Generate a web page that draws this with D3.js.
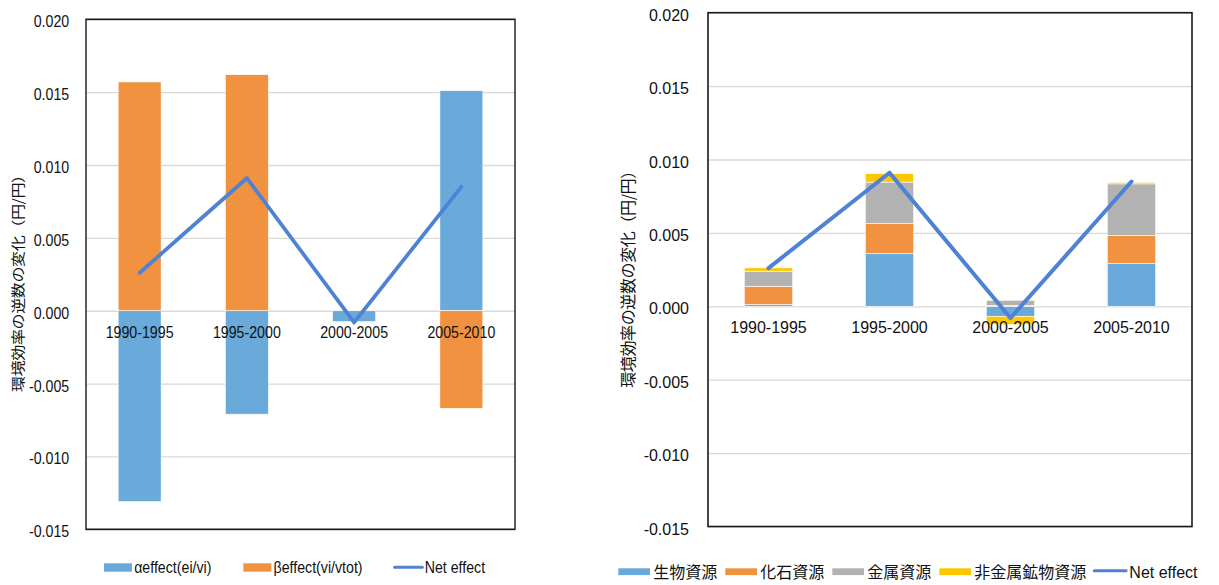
<!DOCTYPE html>
<html>
<head>
<meta charset="utf-8">
<script src="https://cdn.jsdelivr.net/npm/d3@7"></script>
<style>
  html, body { margin: 0; padding: 0; background: #fff; }
  svg { display: block; }
  text { font-family: "Liberation Sans", Arial, "Noto Sans CJK JP", sans-serif; fill: #111; }
  .jp { font-family: "Noto Sans CJK JP", "Liberation Sans", sans-serif; }
</style>
</head>
<body>
<svg id="chart" width="1219" height="585"></svg>
<script>
// ---- data ----
const periods = ["1990-1995", "1995-2000", "2000-2005", "2005-2010"];

// left panel: decomposition into α / β effects
const alphaEffect = [-0.0131, -0.0071, -0.00075, 0.0151];
const betaEffect  = [0.0157, 0.0162, 0.00005, -0.0067];
const netEffectLeft = [0.0026, 0.0091, -0.0008, 0.0085];

// right panel: contribution by resource type
const bioResources      = [0.00012, 0.00359, -0.00068, 0.00291];
const fossilResources   = [0.00125, 0.00204, 0.00005, 0.00191];
const metalResources    = [0.00102, 0.00283, 0.00036, 0.00352];
const nonMetalMinerals  = [0.00023, 0.00057, -0.00057, 0.0001];
const netEffectRight = [0.0026, 0.0091, -0.0008, 0.0085];

const yTicks      = [-0.015, -0.010, -0.005, 0, 0.005, 0.010, 0.015, 0.020];
const yTickLabels = ["-0.015", "-0.010", "-0.005", "0.000", "0.005", "0.010", "0.015", "0.020"];
const yTitle = "環境効率の逆数の変化（円/円）";
const leftSeriesNames  = ["αeffect(ei/vi)", "βeffect(vi/vtot)"];
const rightSeriesNames = ["生物資源", "化石資源", "金属資源", "非金属鉱物資源"];
const netName = "Net effect";

// ---- styling ----
const C_BLUE = "#6aaadb", C_ORANGE = "#f19240", C_GRAY = "#b2b2b2", C_YELLOW = "#ffc700";
const C_LINE = "#4f81d5", C_GRID = "#d9d9d9";

const svg = d3.select("#chart");

function drawPanel(g, cfg) {
  const x = d3.scaleBand().domain(periods).range([cfg.x0, cfg.x1])
    .paddingInner(0.6).paddingOuter(0.3);
  const y = d3.scaleLinear().domain([-0.015, 0.02]).range([cfg.yBottom, cfg.yTop]);
  const bw = x.bandwidth();
  const cx = p => x(p) + bw / 2;

  // horizontal gridlines
  const grid = g.append("g").attr("transform", `translate(${cfg.x0},0)`)
    .call(d3.axisLeft(y).tickValues(yTicks).tickSize(-(cfg.x1 - cfg.x0)).tickFormat(""));
  grid.select(".domain").remove();
  grid.selectAll("line").attr("stroke", C_GRID).attr("stroke-width", 1.3);

  // value labels on the left
  const ax = g.append("g").attr("transform", `translate(${cfg.x0},0)`)
    .call(d3.axisLeft(y).tickValues(yTicks).tickSize(0).tickPadding(19)
      .tickFormat((d, i) => yTickLabels[i]));
  ax.select(".domain").remove();
  ax.selectAll("text").attr("dy", "0.47em").attr("font-size", 16)
    .attr("font-family", "Liberation Sans, Arial, sans-serif").attr("fill", "#111");

  // stacked bars (positive up, negative down)
  const rows = periods.map((p, i) => {
    const r = { period: p };
    cfg.series.forEach((s, j) => { r[j] = s[i]; });
    return r;
  });
  const layers = d3.stack().keys(cfg.series.map((_, j) => j))
    .offset(d3.stackOffsetDiverging)(rows);
  g.append("g").selectAll("g").data(layers).join("g")
    .attr("fill", (d, j) => cfg.colors[j])
    .selectAll("rect").data(d => d).join("rect")
    .attr("x", d => x(d.data.period))
    .attr("width", bw)
    .attr("y", d => y(Math.max(d[0], d[1])))
    .attr("height", d => Math.abs(y(d[0]) - y(d[1])))
    .attr("stroke", "#ffffff").attr("stroke-width", 0.6);

  // category labels
  g.append("g").selectAll("text").data(periods).join("text")
    .attr("x", d => cx(d)).attr("y", cfg.labelBaseline)
    .attr("text-anchor", "middle").attr("font-size", 16)
    .text(d => d);

  // net effect line
  g.append("path").datum(cfg.net)
    .attr("fill", "none").attr("stroke", C_LINE).attr("stroke-width", 4)
    .attr("stroke-linejoin", "round").attr("stroke-linecap", "round")
    .attr("d", d3.line().x((d, i) => cx(periods[i])).y(d => y(d)));

  // plot frame
  g.append("rect")
    .attr("x", cfg.x0).attr("y", cfg.yTop)
    .attr("width", cfg.x1 - cfg.x0).attr("height", cfg.yBottom - cfg.yTop)
    .attr("fill", "none").attr("stroke", "#1a1a1a").attr("stroke-width", 1.6);

  // vertical axis title
  g.append("text").attr("class", "jp")
    .attr("transform", `translate(${cfg.titleX},${cfg.titleCY}) rotate(-90)`)
    .attr("text-anchor", "middle").attr("dominant-baseline", "central")
    .attr("font-size", 16)
    .attr("textLength", 225).attr("lengthAdjust", "spacing")
    .text(yTitle);

  // legend
  const L = cfg.legend;
  const items = cfg.names.map((n, j) => ({ name: n, color: cfg.colors[j], line: false }))
    .concat([{ name: netName, color: C_LINE, line: true }]);
  let cursor = L.x;
  items.forEach(it => {
    if (it.line) {
      g.append("line")
        .attr("x1", cursor).attr("x2", cursor + L.swatchW)
        .attr("y1", L.lineY).attr("y2", L.lineY)
        .attr("stroke", it.color).attr("stroke-width", 3).attr("stroke-linecap", "round");
    } else {
      g.append("rect")
        .attr("x", cursor).attr("y", L.swatchY)
        .attr("width", L.swatchW).attr("height", L.swatchH)
        .attr("fill", it.color);
    }
    const t = g.append("text")
      .attr("x", cursor + L.textOff).attr("y", L.baseline)
      .attr("font-size", 16).text(it.name);
    cursor += L.textOff + t.node().getComputedTextLength() + L.gap;
  });
}

// left panel: drawn on a horizontally condensed frame
const squeeze = 0.887;
const gLeft = svg.append("g").attr("transform", `scale(${squeeze},1)`);
drawPanel(gLeft, {
  x0: 86 / squeeze, x1: 515 / squeeze,
  yTop: 19.3, yBottom: 529.3,
  series: [alphaEffect, betaEffect],
  colors: [C_BLUE, C_ORANGE],
  names: leftSeriesNames,
  net: netEffectLeft,
  labelBaseline: 338,
  titleX: 16 / squeeze, titleCY: 279.4,
  legend: { x: 104 / squeeze, swatchW: 31.5, swatchH: 8.4, swatchY: 563.3,
            lineY: 567.3, textOff: 34, gap: 36, baseline: 573.5 }
});

// right panel
const gRight = svg.append("g");
drawPanel(gRight, {
  x0: 708, x1: 1192,
  yTop: 12.7, yBottom: 526.5,
  series: [bioResources, fossilResources, metalResources, nonMetalMinerals],
  colors: [C_BLUE, C_ORANGE, C_GRAY, C_YELLOW],
  names: rightSeriesNames,
  net: netEffectRight,
  labelBaseline: 333.3,
  titleX: 627, titleCY: 275.3,
  legend: { x: 618.3, swatchW: 31.7, swatchH: 6.8, swatchY: 568.3,
            lineY: 570.8, textOff: 35, gap: 8, baseline: 578 }
});
</script>
</body>
</html>
